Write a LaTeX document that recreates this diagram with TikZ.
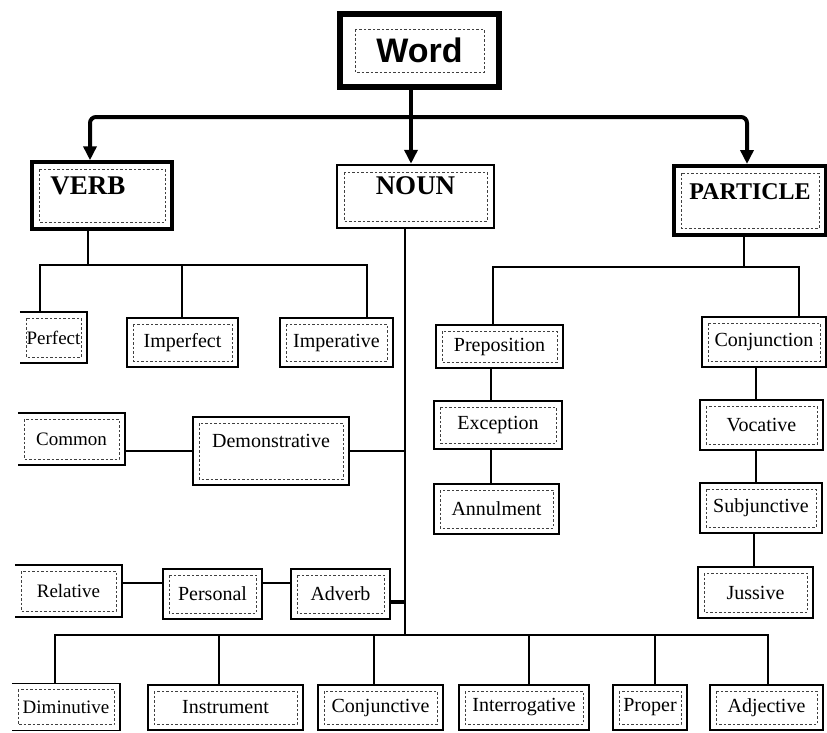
\documentclass[tikz,border=0pt]{standalone}
\usepackage{fontspec}
\setmainfont{Liberation Serif}
\newfontfamily\wordfont{Liberation Sans}
\usetikzlibrary{arrows.meta}

\tikzset{
  dashin/.style={path picture={\draw[black!75, line width=0.6pt, dash pattern=on 2.5pt off 2pt]
      ([shift={(#1,-#1)}]path picture bounding box.north west) rectangle
      ([shift={(-#1,#1)}]path picture bounding box.south east);}},
  dashin/.default=6pt,
  box/.style={draw, line width=1.5pt, inner sep=0pt, font=\fontsize{20}{22}\selectfont, dashin},
  openbox/.style={inner sep=0pt, font=\fontsize{19}{21}\selectfont, dashin},
  edge3/.style={line width=1.5pt},
  head/.style={draw, inner sep=0pt, text height=17pt, text depth=19pt,
      font=\fontsize{24}{26}\selectfont\bfseries, dashin=7pt},
  conn/.style={line width=2pt},
  arrowline/.style={line width=4pt},
  arrowtip/.style={line width=4pt, -{Triangle[length=14pt,width=13pt]}},
}

\begin{document}
\begin{tikzpicture}[x=1pt,y=-1pt]
\useasboundingbox (0,0) rectangle (827,732);

% ---- top level ----
\node[draw, line width=5.5pt, inner sep=0pt, minimum width=159pt, minimum height=73pt,
      font=\wordfont\fontsize{34}{36}\selectfont\bfseries, dashin=15pt]
      (word) at (419.5,50.5) {Word};

\node[head, line width=3.5pt, minimum width=140pt, minimum height=67pt,
      font=\fontsize{27}{29}\selectfont\bfseries] (verb) at (102,195.5) {\hspace*{-28pt}VERB};
\node[head, line width=2.5pt, minimum width=157pt, minimum height=63pt,
      font=\fontsize{27}{29}\selectfont\bfseries, text depth=21pt] (noun) at (415.5,196.5) {NOUN};
\node[head, line width=4pt, minimum width=152pt, minimum height=69pt] (particle) at (750,200.5) {PARTICLE};

\coordinate (bar) at (411,117);
\draw[arrowline] (word.south -| bar) -- (bar);
\draw[arrowtip, rounded corners=6pt] (bar) -| ([xshift=-12pt]verb.north);
\draw[arrowtip] (bar) -- (noun.north -| bar);
\draw[arrowtip, rounded corners=6pt] (bar) -| ([xshift=-3pt]particle.north);

% ---- verb branch ----
\node[openbox, minimum width=67pt, minimum height=51pt] (perfect) at (53.5,337.5) {Perfect};
\draw[edge3] (perfect.north west) -- (perfect.north east) -- (perfect.south east) -- (perfect.south west);
\node[box, minimum width=111pt, minimum height=49pt] (imperfect) at (182.5,342.5) {Imperfect};
\node[box, minimum width=113pt, minimum height=49pt] (imperative) at (336.5,342.5) {Imperative};

\coordinate (vbar) at (88,265);
\coordinate (vL) at (40,265);
\coordinate (vM) at (182,265);
\coordinate (vR) at (367,265);
\draw[conn] (verb.south -| vbar) -- (vbar);
\draw[conn] (perfect.north -| vL) -- (vL) -- (vR) -- (imperative.north -| vR);
\draw[conn] (vM) -- (imperfect.north -| vM);

% ---- noun branch ----
\coordinate (nbar) at (405,635);
\draw[conn] (noun.south -| nbar) -- (nbar);

\node[openbox, minimum width=107pt, minimum height=52pt] (common) at (71.5,439) {Common};
\draw[edge3] (common.north west) -- (common.north east) -- (common.south east) -- (common.south west);
\node[box, minimum width=156pt, minimum height=68pt, text height=14pt, text depth=22pt]
      (demonstrative) at (271,451) {Demonstrative};
\draw[conn] (demonstrative.west -| common.east) -- (demonstrative.west);
\draw[conn] (demonstrative.east) -- (demonstrative.east -| nbar);

\node[openbox, minimum width=107pt, minimum height=52pt] (relative) at (68.5,591) {Relative};
\draw[edge3] (relative.north west) -- (relative.north east) -- (relative.south east) -- (relative.south west);
\node[box, minimum width=99pt, minimum height=50pt] (personal) at (212.5,594) {Personal};
\node[box, minimum width=99pt, minimum height=50pt] (adverb) at (340.5,594) {Adverb};
\coordinate (rl) at (0,583);
\coordinate (al) at (0,602);
\draw[conn] (relative.east |- rl) -- (personal.west |- rl);
\draw[conn] (personal.east |- rl) -- (adverb.west |- rl);
\draw[line width=3.5pt] (adverb.east |- al) -- (nbar |- al);

% bottom row of noun kinds
\node[openbox, minimum width=108pt, minimum height=47pt] (diminutive) at (66,707) {Diminutive};
\draw[edge3] (diminutive.north west) -- (diminutive.north east) -- (diminutive.south east) -- (diminutive.south west);
\node[box, minimum width=155pt, minimum height=45pt] (instrument) at (225.5,707.5) {Instrument};
\node[box, minimum width=125pt, minimum height=45pt] (conjunctive) at (380.5,707.5) {Conjunctive};
\node[box, minimum width=130pt, minimum height=45pt] (interrogative) at (524,707.5) {Interrogative};
\node[box, minimum width=74pt, minimum height=45pt] (proper) at (650,707.5) {Proper};
\node[box, minimum width=113pt, minimum height=45pt] (adjective) at (766.5,707.5) {Adjective};

\coordinate (b1) at (55,635);
\coordinate (b2) at (219,635);
\coordinate (b3) at (374,635);
\coordinate (b4) at (529,635);
\coordinate (b5) at (655,635);
\coordinate (b6) at (768,635);
\draw[conn] (diminutive.north -| b1) -- (b1) -- (b6) -- (adjective.north -| b6);
\draw[conn] (b2) -- (instrument.north -| b2);
\draw[conn] (b3) -- (conjunctive.north -| b3);
\draw[conn] (b4) -- (interrogative.north -| b4);
\draw[conn] (b5) -- (proper.north -| b5);

% ---- particle branch ----
\node[box, minimum width=127pt, minimum height=43pt] (preposition) at (499.5,346.5) {Preposition};
\node[box, minimum width=128pt, minimum height=48pt] (exception) at (498,425) {Exception};
\node[box, minimum width=125pt, minimum height=50pt] (annulment) at (496.5,509) {Annulment};

\node[box, minimum width=124pt, minimum height=50pt] (conjunction) at (764,342) {Conjunction};
\node[box, minimum width=123pt, minimum height=50pt] (vocative) at (761.5,425) {Vocative};
\node[box, minimum width=122pt, minimum height=50pt] (subjunctive) at (761,508) {Subjunctive};
\node[box, minimum width=115pt, minimum height=51pt] (jussive) at (755.5,592.5) {Jussive};

\coordinate (pbar) at (744,267);
\coordinate (pL) at (493,267);
\coordinate (pR) at (799,267);
\draw[conn] (particle.south -| pbar) -- (pbar);
\draw[conn] (preposition.north -| pL) -- (pL) -- (pR) -- (conjunction.north -| pR);

\coordinate (pc) at (491,0);
\draw[conn] (preposition.south -| pc) -- (exception.north -| pc);
\draw[conn] (exception.south -| pc) -- (annulment.north -| pc);

\coordinate (cc) at (756,0);
\coordinate (cd) at (754,0);
\draw[conn] (conjunction.south -| cc) -- (vocative.north -| cc);
\draw[conn] (vocative.south -| cc) -- (subjunctive.north -| cc);
\draw[conn] (subjunctive.south -| cd) -- (jussive.north -| cd);

\end{tikzpicture}
\end{document}
